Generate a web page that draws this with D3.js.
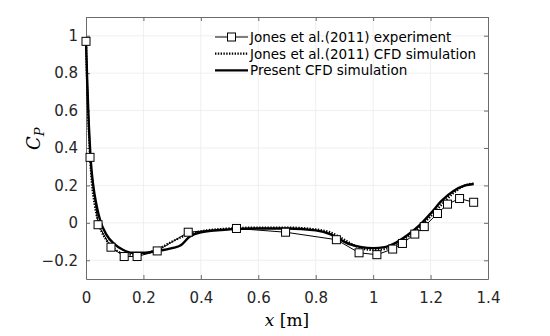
<!DOCTYPE html>
<html>
<head>
<meta charset="utf-8">
<script src="https://cdn.jsdelivr.net/npm/d3@7"></script>
<style>
  body { margin: 0; background: #fff; }
</style>
</head>
<body>
<div id="chart"></div>
<script>
// Jones et al.(2011) experiment - x [m], Cp
const expX = [0, 0.014, 0.042, 0.087, 0.133, 0.178, 0.248, 0.356, 0.524, 0.695, 0.872, 0.951, 1.013, 1.068, 1.102, 1.145, 1.178, 1.224, 1.259, 1.301, 1.35];
const expCp = [0.97, 0.35, -0.01, -0.13, -0.18, -0.18, -0.15, -0.05, -0.03, -0.05, -0.09, -0.16, -0.17, -0.14, -0.11, -0.06, -0.02, 0.05, 0.1, 0.13, 0.11];

// Jones et al.(2011) CFD simulation
const jonesX = [0, 0.005, 0.01, 0.015, 0.02, 0.03, 0.04, 0.05, 0.07, 0.1, 0.13, 0.16, 0.2, 0.25, 0.3, 0.35, 0.4, 0.5, 0.6, 0.7, 0.8, 0.85, 0.9, 0.94, 1.0, 1.04, 1.08, 1.12, 1.16, 1.2, 1.24, 1.28, 1.32, 1.35];
const jonesCp = [0.97, 0.68, 0.48, 0.33, 0.22, 0.1, 0.02, -0.03, -0.09, -0.14, -0.165, -0.17, -0.165, -0.14, -0.1, -0.065, -0.045, -0.03, -0.025, -0.025, -0.035, -0.05, -0.09, -0.125, -0.145, -0.14, -0.115, -0.075, -0.025, 0.035, 0.1, 0.16, 0.2, 0.21];

// Present CFD simulation
const presX = [0, 0.005, 0.01, 0.015, 0.02, 0.03, 0.04, 0.05, 0.07, 0.1, 0.13, 0.16, 0.2, 0.25, 0.3, 0.33, 0.36, 0.4, 0.5, 0.6, 0.7, 0.8, 0.85, 0.88, 0.92, 0.96, 1.0, 1.04, 1.08, 1.12, 1.16, 1.2, 1.24, 1.28, 1.32, 1.35];
const presCp = [0.97, 0.72, 0.52, 0.37, 0.27, 0.15, 0.07, 0.01, -0.06, -0.115, -0.145, -0.16, -0.16, -0.15, -0.135, -0.12, -0.075, -0.05, -0.035, -0.03, -0.03, -0.04, -0.06, -0.085, -0.115, -0.13, -0.135, -0.13, -0.105, -0.065, -0.015, 0.05, 0.12, 0.17, 0.2, 0.208];

const xTicks = [0, 0.2, 0.4, 0.6, 0.8, 1, 1.2, 1.4];
const yTicks = [-0.2, 0, 0.2, 0.4, 0.6, 0.8, 1];
const legendLabels = ["Jones et al.(2011) experiment", "Jones et al.(2011) CFD simulation", "Present CFD simulation"];

var margin = {top: 17, right: 62, bottom: 57, left: 86},
    width = 550 - margin.left - margin.right,
    height = 336 - margin.top - margin.bottom;

const svgRoot = d3.select("#chart").append("svg")
    .attr("width", 550)
    .attr("height", 336);

const svg = svgRoot.append("g")
    .attr("transform", `translate(${margin.left}, ${margin.top})`);

const x = d3.scaleLinear().domain([0, 1.4]).range([0, width]);
const y = d3.scaleLinear().domain([-0.3, 1.1]).range([height, 0]);

// grid
svg.selectAll(".vgrid")
    .data(xTicks.slice(1, -1))
    .enter().append("line")
    .attr("x1", d => x(d)).attr("x2", d => x(d))
    .attr("y1", 0).attr("y2", height)
    .attr("stroke", "#ebebeb").attr("stroke-width", 0.8);
svg.selectAll(".hgrid")
    .data(yTicks)
    .enter().append("line")
    .attr("x1", 0).attr("x2", width)
    .attr("y1", d => y(d)).attr("y2", d => y(d))
    .attr("stroke", "#ebebeb").attr("stroke-width", 0.8);

// axes (ticks inside, box on)
const axisColor = "#6b6b6b";
function styleAxis(g) {
    g.select(".domain").attr("stroke", axisColor);
    g.selectAll(".tick line").attr("stroke", axisColor);
    g.selectAll("text")
        .attr("fill", "#262626")
        .style("font-family", "DejaVu Sans")
        .style("font-size", "15px");
}
svg.append("g")
    .attr("transform", `translate(0,${height})`)
    .call(d3.axisBottom(x).tickValues(xTicks).tickSizeInner(-4).tickSizeOuter(0).tickPadding(13).tickFormat(d3.format("")))
    .call(styleAxis);
svg.append("g")
    .call(d3.axisLeft(y).tickValues(yTicks).tickSizeInner(-4).tickSizeOuter(0).tickPadding(8).tickFormat(d3.format("")))
    .call(styleAxis);
svg.append("g")
    .call(d3.axisTop(x).tickValues(xTicks).tickSizeInner(-4).tickSizeOuter(0).tickFormat(""))
    .call(styleAxis);
svg.append("g")
    .attr("transform", `translate(${width},0)`)
    .call(d3.axisRight(y).tickValues(yTicks).tickSizeInner(-4).tickSizeOuter(0).tickFormat(""))
    .call(styleAxis);

// lines
const zip = (xs, ys) => xs.map((v, i) => ({x: v, y: ys[i]}));
const smooth = d3.line().x(d => x(d.x)).y(d => y(d.y)).curve(d3.curveMonotoneX);
const straight = d3.line().x(d => x(d.x)).y(d => y(d.y));

svg.append("path")
    .datum(zip(expX, expCp))
    .attr("fill", "none").attr("stroke", "#000").attr("stroke-width", 1)
    .attr("d", straight);

svg.append("path")
    .datum(zip(jonesX, jonesCp))
    .attr("fill", "none").attr("stroke", "#000").attr("stroke-width", 2.2)
    .attr("stroke-dasharray", "1.4,1.4")
    .attr("d", smooth);

svg.append("path")
    .datum(zip(presX, presCp))
    .attr("fill", "none").attr("stroke", "#000").attr("stroke-width", 2.4)
    .attr("d", smooth);

svg.selectAll(".marker")
    .data(zip(expX, expCp))
    .enter().append("rect")
    .attr("x", d => x(d.x) - 4).attr("y", d => y(d.y) - 4)
    .attr("width", 8).attr("height", 8)
    .attr("fill", "#fff").attr("stroke", "#000").attr("stroke-width", 1);

// legend
const legend = svgRoot.append("g").attr("transform", "translate(215, 37)");
const rowH = 16.7;
legendLabels.forEach(function(label, i) {
    const row = legend.append("g").attr("transform", `translate(0, ${i * rowH})`);
    const ln = row.append("line").attr("x1", 0).attr("x2", 33).attr("y1", 0).attr("y2", 0).attr("stroke", "#000");
    if (i === 0) {
        ln.attr("stroke-width", 1);
        row.append("rect").attr("x", 12.5).attr("y", -4).attr("width", 8).attr("height", 8)
            .attr("fill", "#fff").attr("stroke", "#000");
    } else if (i === 1) {
        ln.attr("stroke-width", 2.2).attr("stroke-dasharray", "1.4,1.4");
    } else {
        ln.attr("stroke-width", 2.4);
    }
    row.append("text")
        .attr("x", 35).attr("y", 5)
        .style("font-family", "DejaVu Sans").style("font-size", "13.5px")
        .attr("fill", "#000")
        .text(label);
});

// axis labels
const yl = svgRoot.append("text")
    .attr("transform", `translate(40, ${margin.top + y(0.45)}) rotate(-90)`)
    .attr("text-anchor", "middle")
    .style("font-family", "DejaVu Serif").style("font-size", "18px").style("font-style", "italic");
yl.append("tspan").text("C");
yl.append("tspan").attr("dy", 4).style("font-size", "13px").text("P");

const xl = svgRoot.append("text")
    .attr("x", margin.left + x(0.7)).attr("y", 326)
    .attr("text-anchor", "middle")
    .style("font-family", "DejaVu Serif").style("font-size", "17px");
xl.append("tspan").style("font-style", "italic").text("x");
xl.append("tspan").text(" [m]");
</script>
</body>
</html>
